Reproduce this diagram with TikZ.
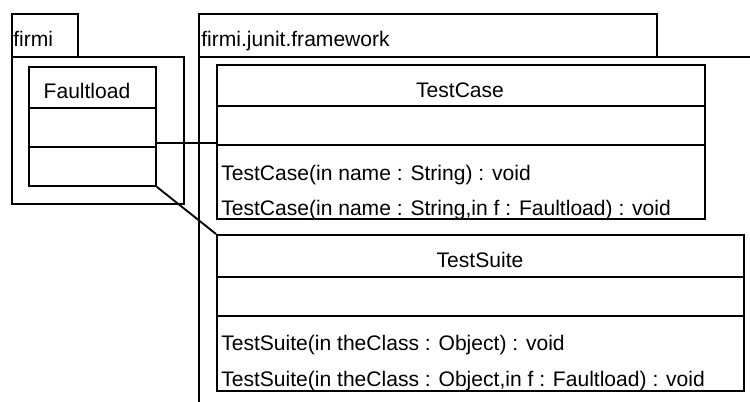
\documentclass[tikz,border=0pt]{standalone}
\usepackage{fontspec}
\setmainfont{Liberation Sans}
\usetikzlibrary{positioning}

\tikzset{
  umlclass/.style={draw, line width=1.4pt, inner sep=0pt, anchor=north west},
  umltext/.style={inner sep=0pt, font=\fontsize{15.8}{19}\selectfont},
  pkg/.style={line width=1.4pt},
}

\begin{document}
\begin{tikzpicture}[x=0.75pt,y=-0.75pt]
    \useasboundingbox (0,0) rectangle (750,401);
    \clip (0,0) rectangle (750,401);
    % package firmi
    \draw [pkg] (12,57) -- (12,14) -- (78,14) -- (78,57);
    \draw [pkg] (12,57) rectangle (184,204);
    \node [umltext, anchor=base west] (firmi) at (13,46) {firmi};
    % package firmi.junit.framework
    \draw [pkg] (199,57) -- (199,14) -- (657,14) -- (657,57);
    \draw [pkg] (199,405) -- (199,57) -- (755,57);
    \node [umltext, anchor=base west] (framework) at (201,46) {firmi.junit.framework};

    % class Faultload
    \node [umlclass, minimum width=127*0.75pt, minimum height=119*0.75pt] (fault) at (28,66) {};
    \draw [pkg] (fault.west |- 0,108) -- (fault.east |- 0,108);
    \draw [pkg] (fault.west |- 0,147) -- (fault.east |- 0,147);
    \node [umltext, anchor=base] (faultname) at (87,98) {Faultload};

    % class TestCase
    \node [umlclass, minimum width=488*0.75pt, minimum height=154*0.75pt] (case) at (216,64) {};
    \draw [pkg] (case.west |- 0,106) -- (case.east |- 0,106);
    \draw [pkg] (case.west |- 0,145) -- (case.east |- 0,145);
    \node [umltext, anchor=base] (casename) at (460,97) {TestCase};
    \node [umltext, anchor=base west] (caseop1) at (221,180) {TestCase(in name : String) : void};
    \node [umltext, anchor=base west] (caseop2) at (221,215) {TestCase(in name : String,in f : Faultload) : void};

    % class TestSuite
    \node [umlclass, minimum width=527*0.75pt, minimum height=156*0.75pt] (suite) at (216,234) {};
    \draw [pkg] (suite.west |- 0,277) -- (suite.east |- 0,277);
    \draw [pkg] (suite.west |- 0,316) -- (suite.east |- 0,316);
    \node [umltext, anchor=base] (suitename) at (480,267) {TestSuite};
    \node [umltext, anchor=base west] (suiteop1) at (221,350) {TestSuite(in theClass : Object) : void};
    \node [umltext, anchor=base west] (suiteop2) at (221,386) {TestSuite(in theClass : Object,in f : Faultload) : void};

    % links
    \coordinate (link) at (0,143);
    \draw [pkg] (fault.east |- link) -- (case.west |- link);
    \draw [pkg] (fault.south east) -- (suite.north west);
\end{tikzpicture}
\end{document}
